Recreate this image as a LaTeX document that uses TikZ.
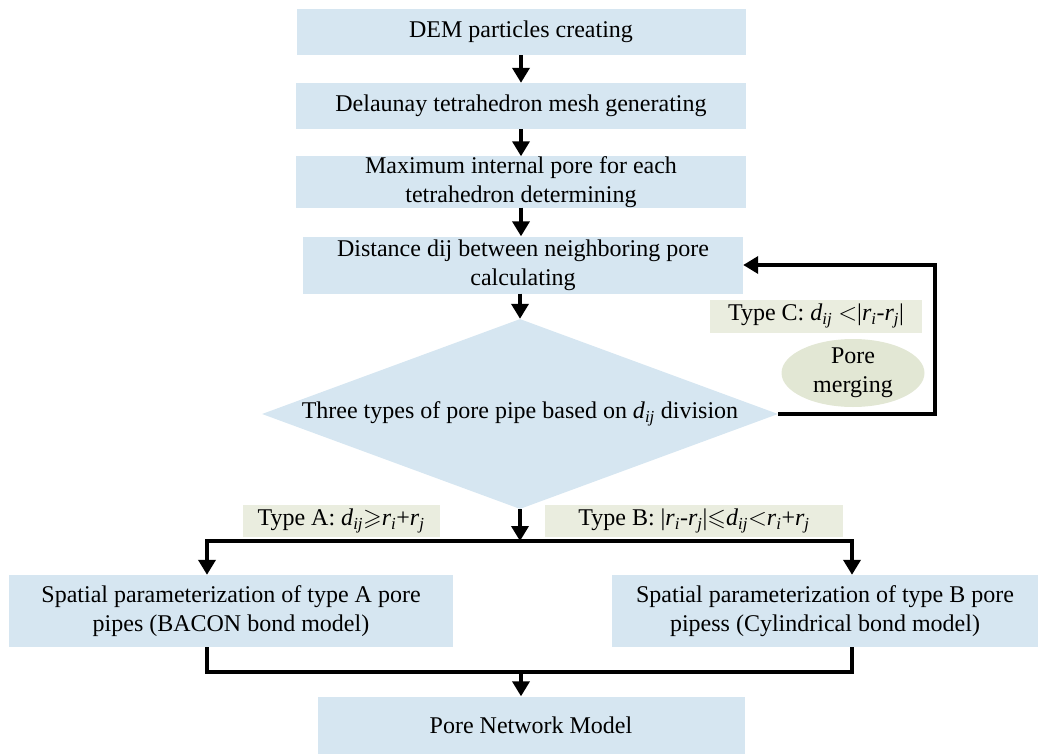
\documentclass[tikz,border=0pt]{standalone}
\usepackage{fontspec}
\setmainfont{Liberation Serif}
\usepackage{amssymb}
\usetikzlibrary{shapes.geometric,arrows.meta}
\definecolor{boxblue}{RGB}{214,230,241}
\definecolor{labgreen}{RGB}{234,237,223}
\definecolor{ellgreen}{RGB}{226,231,212}
\newcommand{\dij}{\textit{d}\textsubscript{\textit{ij}}}
\newcommand{\ri}{\textit{r}\textsubscript{\textit{i}}}
\newcommand{\rj}{\textit{r}\textsubscript{\textit{j}}}
\begin{document}
\begin{tikzpicture}[x=1pt,y=-1pt,
  every node/.style={font=\fontsize{24}{29}\selectfont},
  procbox/.style={fill=boxblue, inner sep=0pt, align=center},
  labelbox/.style={fill=labgreen, inner sep=0pt},
  flowline/.style={line width=3.6pt, line join=miter},
  arr/.style={flowline, -{Triangle[width=17pt,length=15pt]}}]
\path[use as bounding box] (0,0) rectangle (1043,754);

\node[procbox, minimum width=449pt, minimum height=46pt] (b1) at (521,32) {DEM particles creating};
\node[procbox, minimum width=450pt, minimum height=46pt] (b2) at (521,106) {Delaunay tetrahedron mesh generating};
\node[procbox, minimum width=450pt, minimum height=49pt] (b3) at (521,182) {Maximum internal pore for each\\tetrahedron determining};
\node[procbox, minimum width=440pt, minimum height=57pt] (b4) at (523,265) {Distance dij between neighboring pore\\calculating};
\node[diamond, aspect=2.7, fill=boxblue, inner sep=0pt, minimum width=516pt, minimum height=190pt] (dia) at (520,414) {Three types of pore pipe based on \dij{} division};

\node[labelbox, minimum width=212pt, minimum height=33pt] (lc) at (816,316) {Type C: \dij{} $<$|\ri-\rj|};
\node[ellipse, fill=ellgreen, inner sep=-6pt, minimum width=143pt, minimum height=68pt, align=center] (pm) at (853,373) {Pore\\merging};

\node[labelbox, minimum width=197pt, minimum height=32pt] (la) at (341,521) {Type A: \dij$\geqslant$\ri+\rj};
\node[labelbox, minimum width=298pt, minimum height=32pt] (lb) at (694,521) {Type B: |\ri-\rj|$\leqslant$\dij$<$\ri+\rj};

\node[procbox, minimum width=444pt, minimum height=72pt] (bA) at (231,611) {Spatial parameterization of type A pore\\pipes (BACON bond model)};
\node[procbox, minimum width=426pt, minimum height=72pt] (bB) at (825,611) {Spatial parameterization of type B pore\\pipess (Cylindrical bond model)};
\node[procbox, minimum width=427pt, minimum height=57pt] (pnm) at (531,725) {Pore Network Model};

\coordinate (jl) at (207,541);
\coordinate (jr) at (852,541);
\coordinate (ml) at (207,672);
\coordinate (mr) at (852,672);
\coordinate (mc) at (521,672);

\draw[arr] (b1.south) -- (b2.north);
\draw[arr] (b2.south) -- (b3.north);
\draw[arr] (b3.south) -- (b3.south |- b4.north);
\draw[arr] (dia.north |- b4.south) -- (dia.north);
\draw[arr] (dia.east) -- ++(157,0) |- (b4.east);
\draw[arr] (dia.south) -- (dia.south |- jl);
\draw[arr] (jr) -- (jl) -- (jl |- bA.north);
\draw[arr] (jl) -- (jr) -- (jr |- bB.north);
\draw[flowline] (ml |- bA.south) -- (ml) -- (mr) -- (mr |- bB.south);
\draw[arr] (mc) -- (mc |- pnm.north);
\end{tikzpicture}
\end{document}
